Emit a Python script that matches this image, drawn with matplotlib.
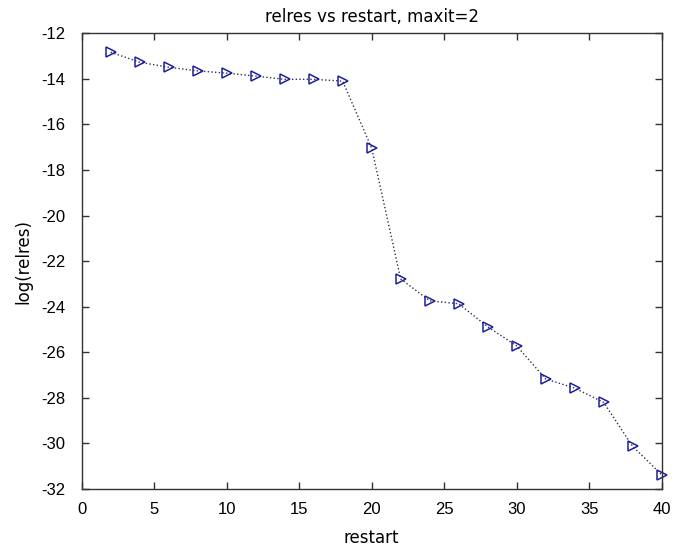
import numpy as np
from matplotlib import pyplot as plt

# restart values and log(relres)
restart = [2, 4, 6, 8, 10, 12, 14, 16, 18, 20, 22, 24, 26, 28, 30, 32, 34, 36, 38, 40]
log_relres = [-12.83, -13.27, -13.49, -13.65, -13.75, -13.88, -14.02, -14.02, -14.1,
              -17.04, -22.78, -23.74, -23.87, -24.88, -25.72, -27.17, -27.57, -28.2,
              -30.13, -31.37]
xticks = [0, 5, 10, 15, 20, 25, 30, 35, 40]
yticks = [-32, -30, -28, -26, -24, -22, -20, -18, -16, -14, -12]

plt.rcParams['font.family'] = ['Liberation Sans', 'DejaVu Sans']
plt.rcParams['axes.unicode_minus'] = False

fig = plt.figure(figsize=(6.94, 5.51), dpi=100)
ax = fig.add_axes([0.1177, 0.1125, 0.8357, 0.8271])

ax.plot(restart, log_relres, linestyle=':', color='#303050', linewidth=1.0,
        marker='>', markersize=6.5, markerfacecolor='none',
        markeredgecolor='#1f1f9c', markeredgewidth=1.1, clip_on=False)

ax.set_xlim(0, 40)
ax.set_ylim(-32, -12)
ax.set_xticks(xticks)
ax.set_yticks(yticks)
ax.tick_params(direction='in', top=True, right=True, length=5, width=1.0,
               color='#333333', labelsize=12)
ax.tick_params(axis='x', pad=9)
ax.tick_params(axis='y', pad=12)
for s in ax.spines.values():
    s.set_linewidth(1.0)
    s.set_color('#333333')

label_font = dict(family='DejaVu Sans', fontsize=12)
ax.set_xlabel('restart', labelpad=9, **label_font)
ax.set_ylabel('log(relres)', labelpad=6, **label_font)
ax.set_title('relres vs restart, maxit=2', pad=8, **label_font)

fig.savefig('out.png', dpi=100)
